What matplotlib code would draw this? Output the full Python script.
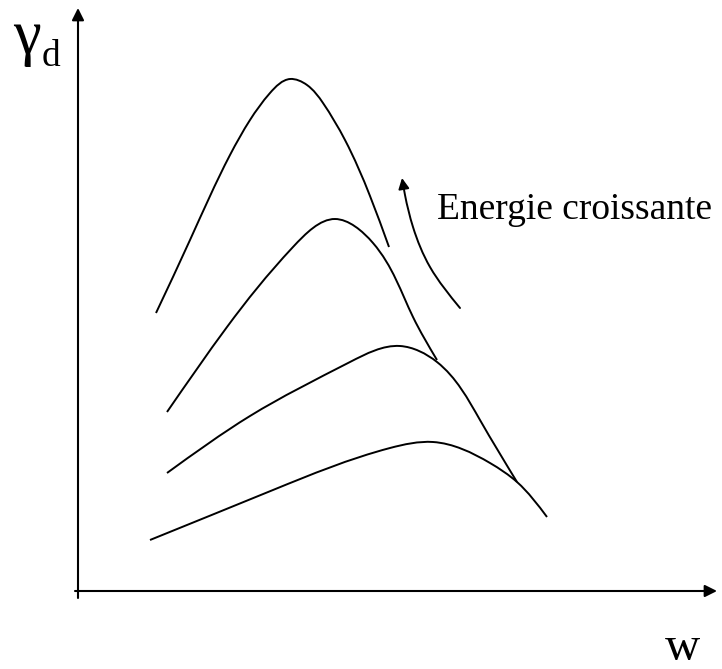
import numpy as np
import matplotlib
matplotlib.use('Agg')
from matplotlib import pyplot as plt
from matplotlib.path import Path
from matplotlib.patches import FancyArrowPatch, PathPatch

# curves (pixel-like units, y grows downward)
curve1_x = [156, 190, 230, 250, 270, 290, 307, 323, 345, 370, 389]
curve1_y = [313, 240, 155, 120, 93, 79, 85, 103, 140, 196, 247]

curve2_x = [167, 227, 293, 335, 373, 413, 437]
curve2_y = [412, 327, 247, 219, 243, 317, 360]

curve3_x = [167, 250, 350, 400, 437, 480, 517]
curve3_y = [473, 416, 362, 346, 362, 420, 482]

curve4_x = [150, 273, 390, 433, 490, 517, 547]
curve4_y = [540, 490, 448, 442, 463, 482, 517]

arrow_x = [460, 430, 413, 405, 402]
arrow_y = [308, 267, 227, 195, 178]


def smooth_path(xs, ys):
    # natural cubic spline through the points (chord length), as bezier segments
    p = np.column_stack([xs, ys]).astype(float)
    n = len(p)
    h = np.hypot(*np.diff(p, axis=0).T)
    A = np.zeros((n, n))
    r = np.zeros((n, 2))
    A[0, 0] = A[-1, -1] = 1
    for i in range(1, n - 1):
        A[i, i - 1] = h[i - 1]
        A[i, i] = 2 * (h[i - 1] + h[i])
        A[i, i + 1] = h[i]
        r[i] = 6 * ((p[i + 1] - p[i]) / h[i] - (p[i] - p[i - 1]) / h[i - 1])
    M = np.linalg.solve(A, r)
    verts = [p[0]]
    codes = [Path.MOVETO]
    for i in range(n - 1):
        s = (p[i + 1] - p[i]) / h[i]
        d0 = s - h[i] * (2 * M[i] + M[i + 1]) / 6
        d1 = s + h[i] * (M[i] + 2 * M[i + 1]) / 6
        verts += [p[i] + d0 * h[i] / 3, p[i + 1] - d1 * h[i] / 3, p[i + 1]]
        codes += [Path.CURVE4] * 3
    return Path(verts, codes)


fig = plt.figure(figsize=(7.22, 6.69), dpi=100)
ax = fig.add_axes([0, 0, 1, 1])
ax.set_xlim(0, 722)
ax.set_ylim(669, 0)
ax.axis('off')

for xs, ys in [(curve1_x, curve1_y), (curve2_x, curve2_y),
               (curve3_x, curve3_y), (curve4_x, curve4_y)]:
    ax.add_patch(PathPatch(smooth_path(xs, ys), fill=False, lw=1.4, color='black',
                           capstyle='butt'))

ax.add_patch(FancyArrowPatch(path=smooth_path(arrow_x, arrow_y), arrowstyle='-|>',
                             mutation_scale=16, lw=1.4, color='black'))

# axes with arrows
ax.annotate('', xy=(78, 8), xytext=(78, 598),
            arrowprops=dict(arrowstyle='-|>', lw=1.5, color='black', mutation_scale=18,
                            shrinkA=0, shrinkB=0))
ax.annotate('', xy=(717, 591), xytext=(75, 591),
            arrowprops=dict(arrowstyle='-|>', lw=1.5, color='black', mutation_scale=18,
                            shrinkA=0, shrinkB=0))

serif = ['Liberation Serif', 'DejaVu Serif']
ax.text(13, 53, 'γ', fontsize=45, family=serif, ha='left', va='baseline')
ax.text(42, 66, 'd', fontsize=27, family=serif, ha='left', va='baseline')
ax.text(665, 660, 'w', fontsize=35, family=serif, ha='left', va='baseline')
ax.text(437, 219, 'Energie croissante', fontsize=27, family=serif, ha='left', va='baseline')

plt.savefig('out.png', dpi=100)
